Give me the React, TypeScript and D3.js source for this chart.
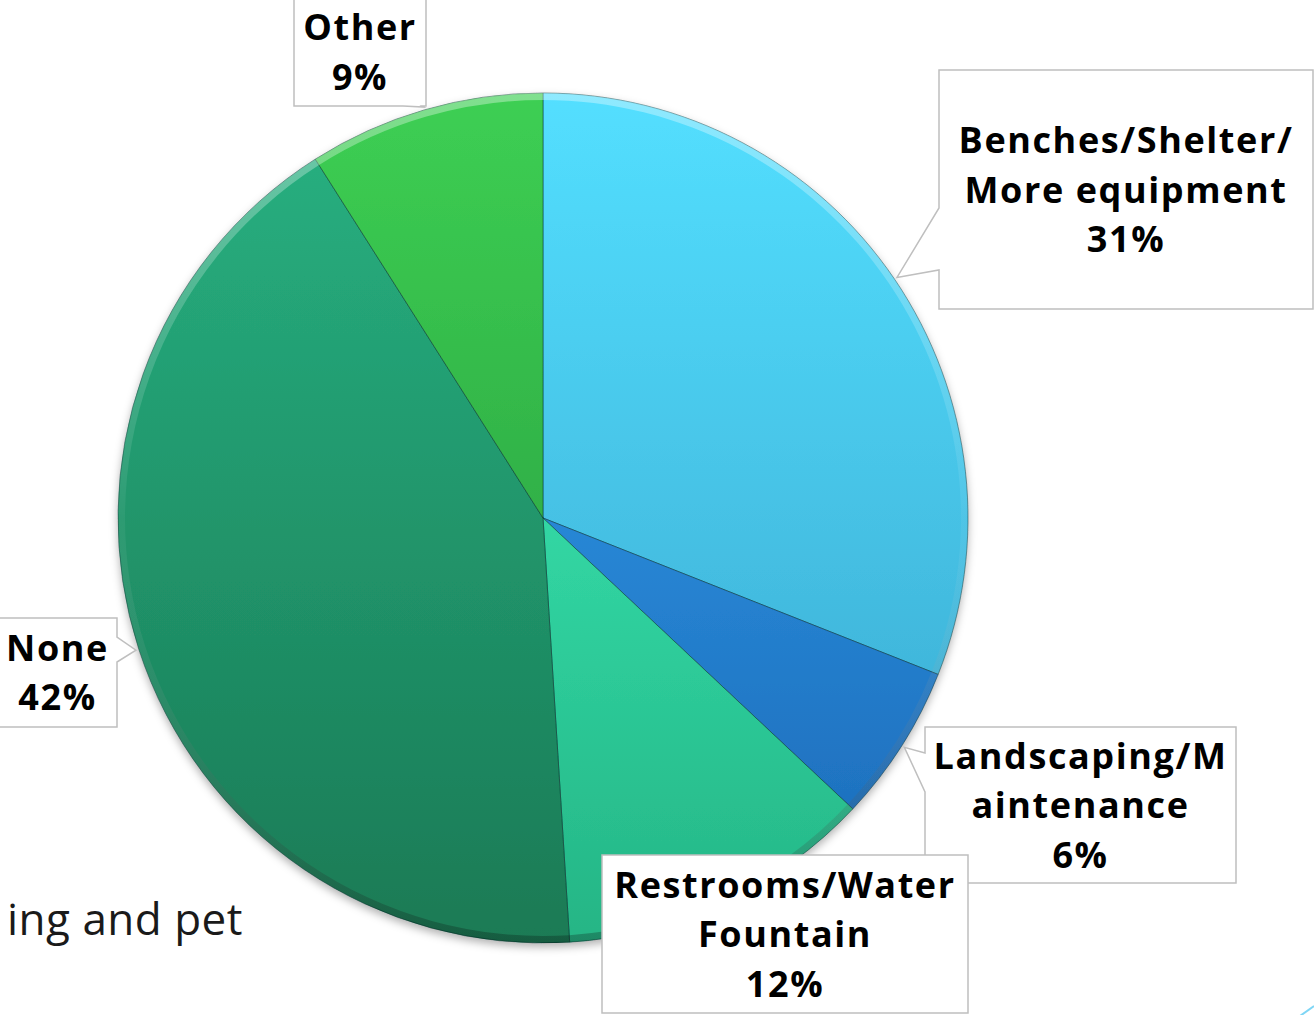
import React, { useEffect, useRef } from 'react';
import * as d3 from 'd3';

// slices clockwise from 12 o'clock
const categories = ['Benches/Shelter/More equipment', 'Landscaping/Maintenance', 'Restrooms/Water Fountain', 'None', 'Other'];
const values = [31, 6, 12, 42, 9];
const labelLines = [
  ['Benches/Shelter/', 'More equipment'],
  ['Landscaping/M', 'aintenance'],
  ['Restrooms/Water', 'Fountain'],
  ['None'],
  ['Other'],
];
const topColors = ['#53dfff', '#36a6f5', '#3ef8c2', '#28b282', '#3dcf53'];
const bottomColors = ['#38a4cb', '#1a68b6', '#25b585', '#1a7a55', '#24923b'];

// callout boxes: x, y, w, h, wedge side, wedge base [a, b]
const callouts = [
  { x: 939, y: 70, w: 374, h: 239, side: 'left', base: [208, 270] },
  { x: 925, y: 727, w: 311, h: 156, side: 'left', base: [753, 792] },
  { x: 602, y: 855, w: 366, h: 158, side: 'top', base: [700, 750] },
  { x: -2, y: 618, w: 119, h: 109, side: 'right', base: [637, 662] },
  { x: 294, y: -2, w: 132, h: 108, side: 'bottom', base: [403, 422] },
];

const W = 1314;
const H = 1015;
const cx = 543;
const cy = 518;
const R = 425;

const App: React.FC = () => {
  const svgRef = useRef<SVGSVGElement>(null);

  useEffect(() => {
    if (!svgRef.current) return;
    document.body.style.margin = '0';
    const svg = d3.select(svgRef.current);
    svg.selectAll('*').remove();

    const defs = svg.append('defs');
    categories.forEach((_, i) => {
      const lg = defs.append('linearGradient')
        .attr('id', `grad${i}`)
        .attr('gradientUnits', 'userSpaceOnUse')
        .attr('x1', 0).attr('y1', -R)
        .attr('x2', 0).attr('y2', R);
      lg.append('stop').attr('offset', '0%').attr('stop-color', topColors[i]);
      lg.append('stop').attr('offset', '100%').attr('stop-color', bottomColors[i]);
    });
    const bevel = defs.append('linearGradient')
      .attr('id', 'bevel')
      .attr('gradientUnits', 'userSpaceOnUse')
      .attr('x1', 0).attr('y1', -R)
      .attr('x2', 0).attr('y2', R);
    bevel.append('stop').attr('offset', '0%').attr('stop-color', '#fff').attr('stop-opacity', 0.35);
    bevel.append('stop').attr('offset', '50%').attr('stop-color', '#fff').attr('stop-opacity', 0.05);
    bevel.append('stop').attr('offset', '100%').attr('stop-color', '#000').attr('stop-opacity', 0.25);

    const shadow = defs.append('filter').attr('id', 'shadow')
      .attr('x', '-10%').attr('y', '-10%').attr('width', '120%').attr('height', '120%');
    shadow.append('feDropShadow')
      .attr('dx', 0).attr('dy', 4).attr('stdDeviation', 4)
      .attr('flood-color', '#000').attr('flood-opacity', 0.3);

    // background slide text fragment
    svg.append('text')
      .attr('x', 243).attr('y', 935)
      .attr('text-anchor', 'end')
      .attr('fill', '#1a1a1a')
      .style('font-family', '"Open Sans", sans-serif')
      .style('font-size', '44px')
      .style('letter-spacing', '0.5px')
      .text('ing and pet');

    // small slide decoration bottom-right
    svg.append('path')
      .attr('d', d3.line()([[1300, 1016], [1314, 1006]]))
      .attr('stroke', '#7fd6f5').attr('stroke-width', 2).attr('fill', 'none');

    const pie = d3.pie<number>().sort(null).value(d => d);
    const arcs = pie(values);
    const arc = d3.arc<d3.PieArcDatum<number>>().innerRadius(0).outerRadius(R);

    const g = svg.append('g').attr('transform', `translate(${cx},${cy})`);
    const pieG = g.append('g').attr('filter', 'url(#shadow)');
    pieG.selectAll('path.slice')
      .data(arcs)
      .join('path')
      .attr('class', 'slice')
      .attr('d', arc)
      .attr('fill', (_, i) => `url(#grad${i})`)
      .attr('stroke', 'rgba(0,40,40,0.45)')
      .attr('stroke-width', 1);

    // bevel ring along the outer edge
    const ring = d3.arc<d3.PieArcDatum<number>>().innerRadius(R - 7).outerRadius(R);
    g.selectAll('path.ring')
      .data(arcs)
      .join('path')
      .attr('class', 'ring')
      .attr('d', ring)
      .attr('fill', 'url(#bevel)');

    // callouts
    const labelArc = d3.arc<d3.PieArcDatum<number>>().innerRadius(R + 3).outerRadius(R + 3);
    arcs.forEach((a, i) => {
      const c = callouts[i];
      const [tx0, ty0] = labelArc.centroid(a);
      const tx = tx0 + cx;
      const ty = ty0 + cy;
      const { x, y, w, h } = c;
      const [b0, b1] = c.base;
      let d = '';
      if (c.side === 'left') {
        d = `M${x},${y}L${x + w},${y}L${x + w},${y + h}L${x},${y + h}L${x},${b1}L${tx},${ty}L${x},${b0}Z`;
      } else if (c.side === 'right') {
        d = `M${x},${y}L${x + w},${y}L${x + w},${b0}L${tx},${ty}L${x + w},${b1}L${x + w},${y + h}L${x},${y + h}Z`;
      } else if (c.side === 'bottom') {
        d = `M${x},${y}L${x + w},${y}L${x + w},${y + h}L${b1},${y + h}L${tx},${ty}L${b0},${y + h}L${x},${y + h}Z`;
      } else {
        d = `M${x},${y}L${x + w},${y}L${x + w},${y + h}L${x},${y + h}Z`;
      }
      svg.append('path')
        .attr('d', d)
        .attr('fill', '#fff')
        .attr('stroke', '#bfbfbf')
        .attr('stroke-width', 1.5);

      const lines = [...labelLines[i], `${values[i]}%`];
      const lh = 49.5;
      const midY = y + h / 2;
      const t = svg.append('text')
        .attr('text-anchor', 'middle')
        .attr('fill', '#000')
        .style('font-family', '"Open Sans", sans-serif')
        .style('font-weight', 'bold')
        .style('font-size', '36px')
        .style('letter-spacing', '1.6px');
      lines.forEach((ln, k) => {
        const cyLine = midY + (k - (lines.length - 1) / 2) * lh;
        t.append('tspan')
          .attr('x', x + w / 2)
          .attr('y', cyLine + 13)
          .text(ln);
      });
    });
  }, []);

  return (
    <div style={{ position: 'absolute', left: 0, top: 0 }}>
      <svg ref={svgRef} width={W} height={H} style={{ display: 'block', background: '#fff' }} />
    </div>
  );
};

export default App;
